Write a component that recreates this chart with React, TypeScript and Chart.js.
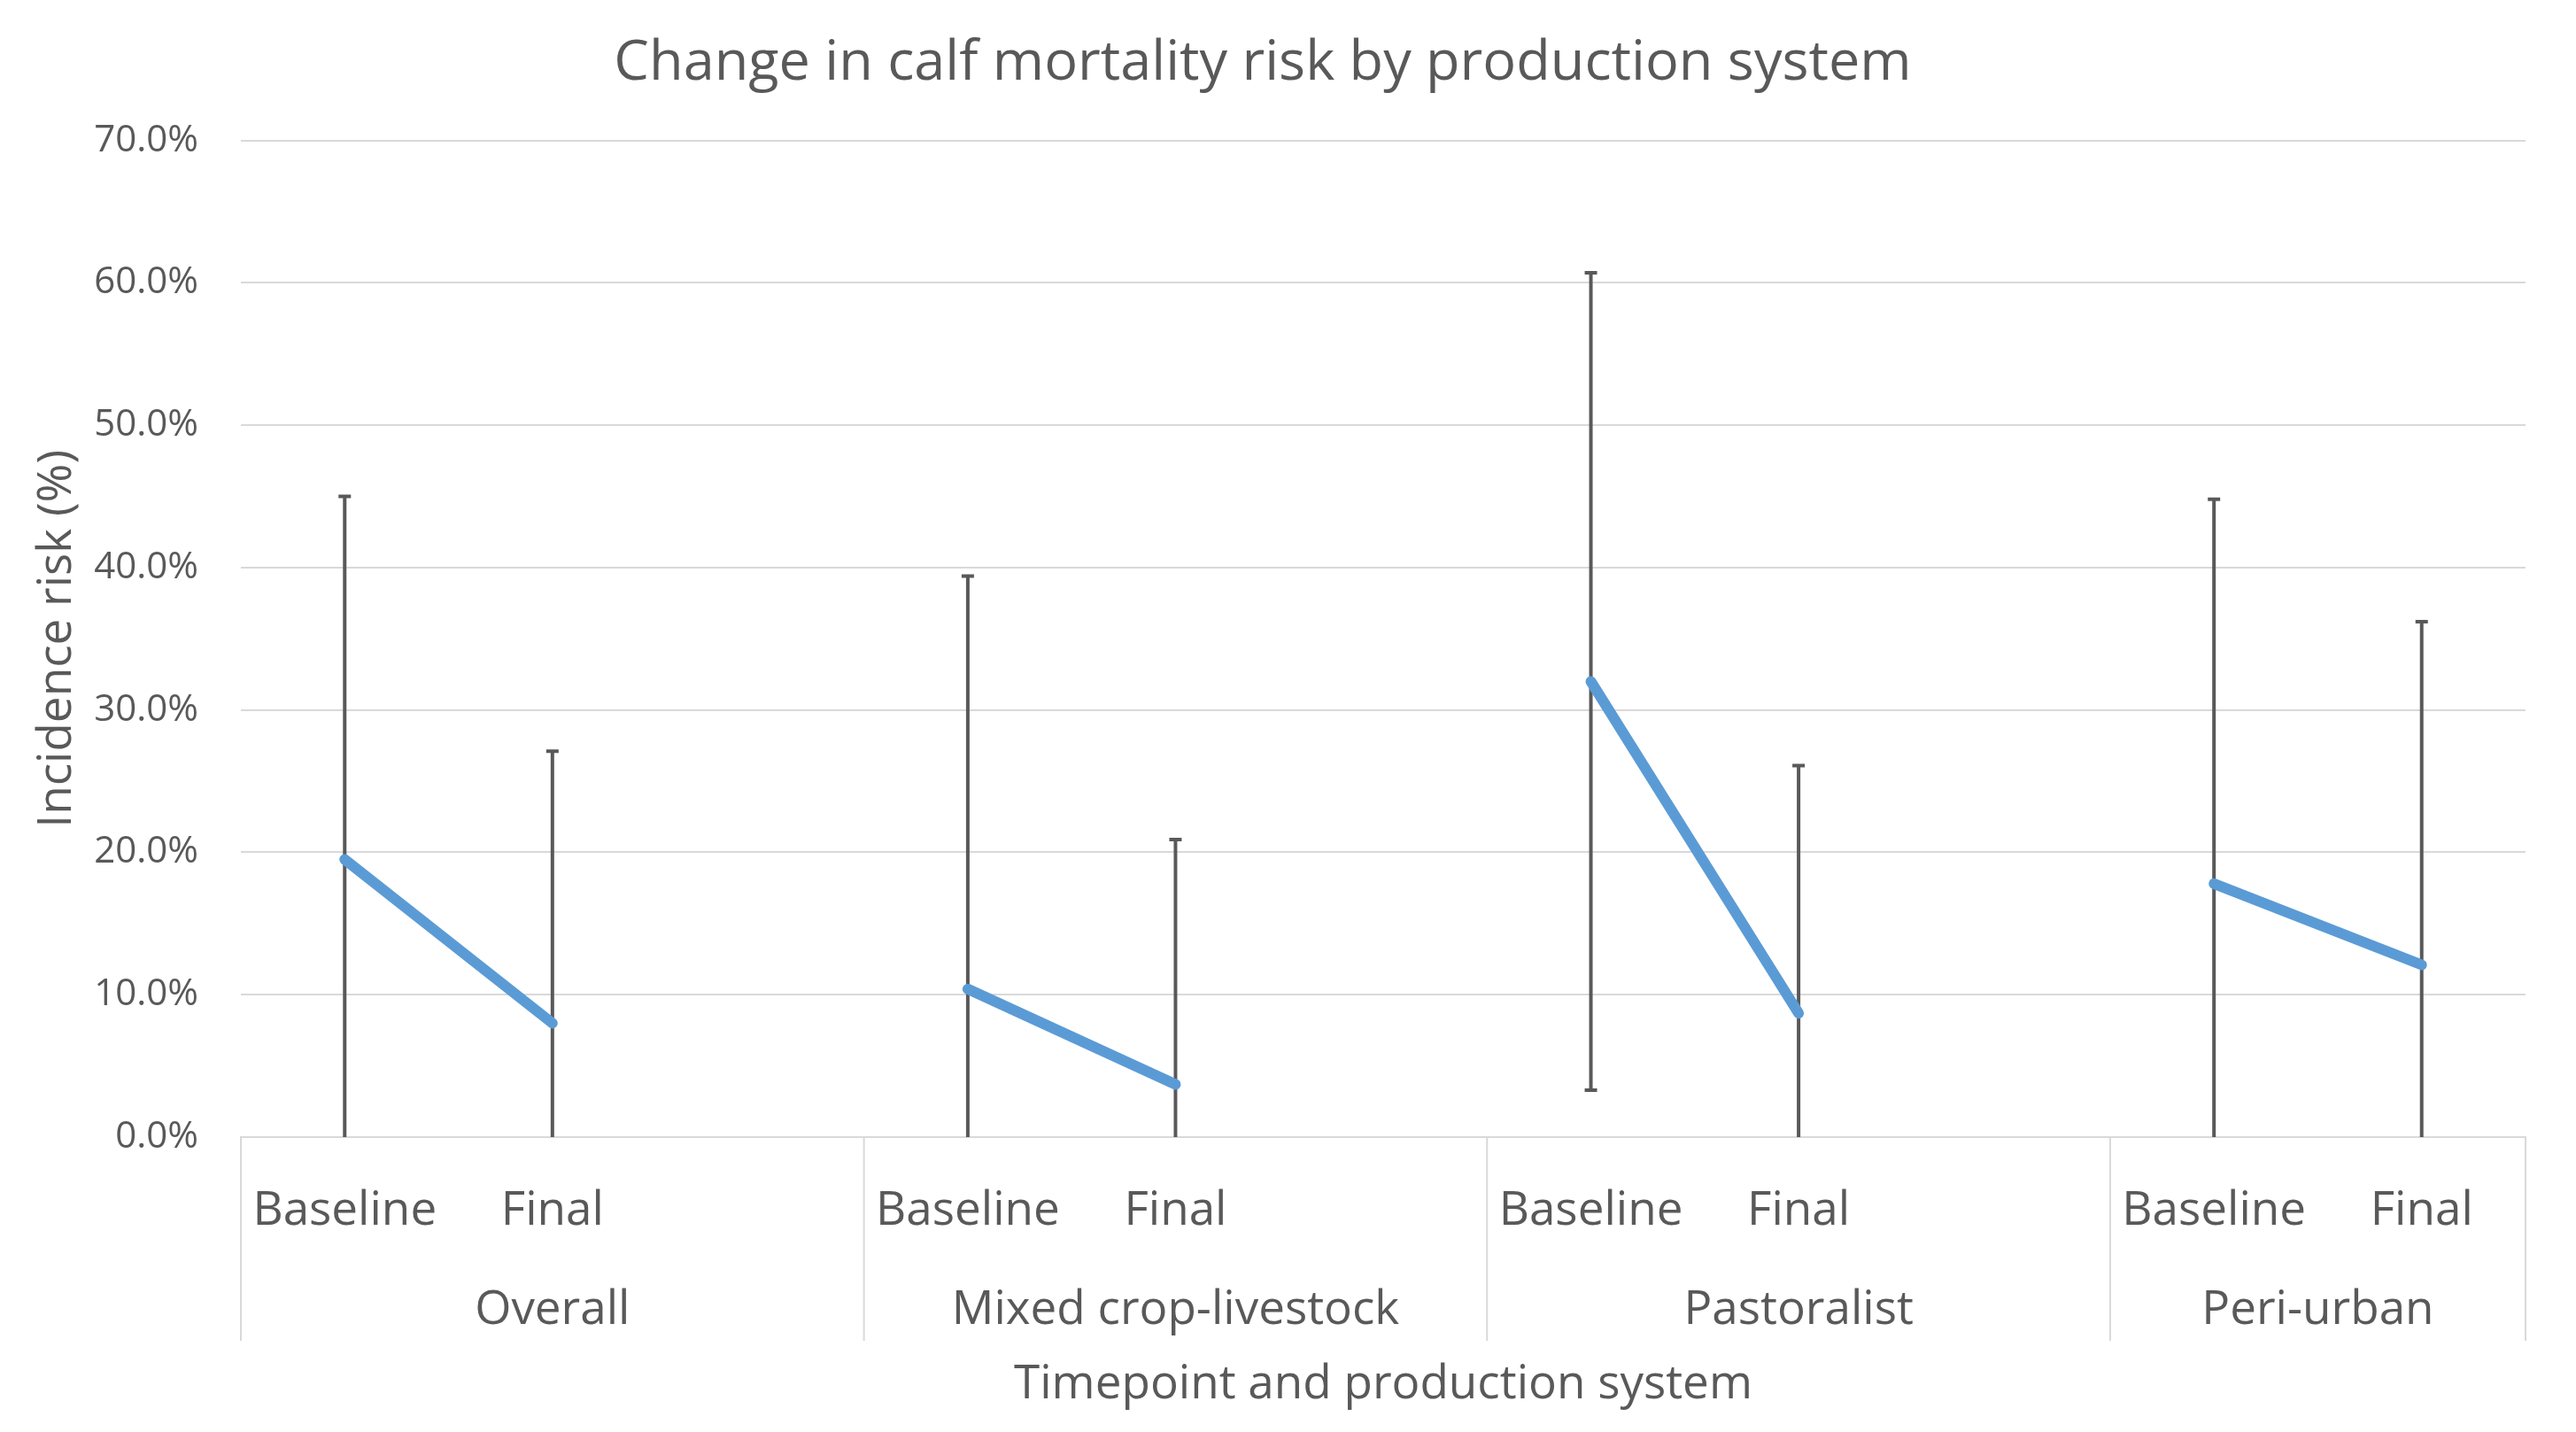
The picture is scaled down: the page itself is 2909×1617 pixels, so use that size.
import React, { useEffect, useRef } from 'react';
import { Chart, registerables } from 'chart.js';

Chart.register(...registerables);

// ---- Data ----
const categories = ['Baseline', 'Final', '', 'Baseline', 'Final', '', 'Baseline', 'Final', '', 'Baseline', 'Final'];
const groupNames = ['Overall', 'Mixed crop-livestock', 'Pastoralist', 'Peri-urban'];
const groupOfCategory = [0, 0, 0, 1, 1, 1, 2, 2, 2, 3, 3];
const riskValues = [19.5, 8.0, null, 10.4, 3.7, null, 32.0, 8.7, null, 17.8, 12.1];
const ciUpper = [45.0, 27.1, null, 39.4, 20.9, null, 60.7, 26.1, null, 44.8, 36.2];
const ciLower = [-6.0, -11.1, null, -18.6, -13.5, null, 3.3, -8.7, null, -9.2, -12.0];
const yMin = 0;
const yMax = 70;
const yStep = 10;

const chartTitle = 'Change in calf mortality risk by production system';
const xTitle = 'Timepoint and production system';
const yTitle = 'Incidence risk (%)';

const FONT = "'Open Sans', sans-serif";
const TEXT = '#595959';
const GRID = '#D9D9D9';

const errorBarPlugin = {
  id: 'errorBars',
  beforeDatasetsDraw(chart: any) {
    const { ctx, chartArea, scales } = chart;
    const x = scales.x;
    const y = scales.y;
    ctx.save();
    ctx.beginPath();
    ctx.rect(chartArea.left, chartArea.top - 10, chartArea.right - chartArea.left, chartArea.bottom - chartArea.top + 10);
    ctx.clip();
    ctx.strokeStyle = '#595959';
    ctx.lineWidth = 4;
    riskValues.forEach((v, i) => {
      if (v == null) return;
      const up = ciUpper[i] as number;
      const lo = ciLower[i] as number;
      const px = x.getPixelForValue(i);
      const yU = y.getPixelForValue(up);
      const yL = y.getPixelForValue(lo);
      ctx.beginPath();
      ctx.moveTo(px, yU);
      ctx.lineTo(px, yL);
      ctx.moveTo(px - 7, yU);
      ctx.lineTo(px + 7, yU);
      ctx.moveTo(px - 7, yL);
      ctx.lineTo(px + 7, yL);
      ctx.stroke();
    });
    ctx.restore();
  },
};

const groupAxisPlugin = {
  id: 'groupAxis',
  afterDraw(chart: any) {
    const { ctx, chartArea, scales } = chart;
    const x = scales.x;
    const bottom = chartArea.bottom;
    ctx.save();
    // separators
    const bounds: number[] = [chartArea.left];
    for (let i = 0; i < groupOfCategory.length - 1; i++) {
      if (groupOfCategory[i] !== groupOfCategory[i + 1]) {
        bounds.push((x.getPixelForValue(i) + x.getPixelForValue(i + 1)) / 2);
      }
    }
    bounds.push(chartArea.right);
    ctx.strokeStyle = GRID;
    ctx.lineWidth = 2;
    bounds.forEach((bx) => {
      ctx.beginPath();
      ctx.moveTo(bx, bottom);
      ctx.lineTo(bx, bottom + 230);
      ctx.stroke();
    });
    // group labels
    ctx.fillStyle = TEXT;
    ctx.font = `53px ${FONT}`;
    ctx.textAlign = 'center';
    ctx.textBaseline = 'middle';
    groupNames.forEach((name, g) => {
      const idx = groupOfCategory.map((gg, i) => (gg === g ? i : -1)).filter((i) => i >= 0);
      const first = idx[0];
      const last = idx[idx.length - 1];
      const cx = (x.getPixelForValue(first) + x.getPixelForValue(last)) / 2;
      ctx.fillText(name, cx, bottom + 196);
    });
    ctx.restore();
  },
};

export default function App() {
  const canvasRef = useRef<HTMLCanvasElement | null>(null);

  useEffect(() => {
    const canvas = canvasRef.current;
    if (!canvas) return;
    const chart = new Chart(canvas, {
      type: 'line',
      data: {
        labels: categories,
        datasets: [
          {
            label: 'Incidence risk',
            data: riskValues as any,
            borderColor: '#5B9BD5',
            backgroundColor: '#5B9BD5',
            borderWidth: 12,
            borderCapStyle: 'round',
            borderJoinStyle: 'round',
            pointRadius: 0,
            pointHoverRadius: 0,
            spanGaps: false,
            tension: 0,
            fill: false,
          },
        ],
      },
      options: {
        animation: false,
        responsive: false,
        devicePixelRatio: 1,
        layout: { padding: { left: 0, right: 57, top: 0, bottom: 0 } },
        plugins: {
          legend: { display: false },
          tooltip: { enabled: false },
          title: {
            display: true,
            text: chartTitle,
            color: TEXT,
            font: { family: FONT, size: 63, weight: 'normal' },
            padding: { top: 34, bottom: 49 },
          },
        },
        scales: {
          x: {
            type: 'category',
            offset: true,
            grid: { display: false, drawTicks: false },
            border: { display: true, color: GRID, width: 2 },
            ticks: {
              color: TEXT,
              font: { family: FONT, size: 53 },
              padding: 52,
              autoSkip: false,
              maxRotation: 0,
              minRotation: 0,
            },
            title: {
              display: true,
              text: xTitle,
              color: TEXT,
              font: { family: FONT, size: 53 },
              padding: { top: 0, bottom: 21 },
            },
            afterFit: (s: any) => {
              s.height = 333;
            },
          },
          y: {
            min: yMin,
            max: yMax,
            ticks: {
              stepSize: yStep,
              color: TEXT,
              font: { family: FONT, size: 42 },
              padding: 48,
              callback: (v: any) => Number(v).toFixed(1) + '%',
            },
            grid: { color: GRID, lineWidth: 2, drawTicks: false },
            border: { display: false },
            title: {
              display: true,
              text: yTitle,
              color: TEXT,
              font: { family: FONT, size: 53 },
              padding: { top: 33, bottom: 0 },
            },
            afterFit: (s: any) => {
              s.width = 272;
            },
          },
        },
      },
      plugins: [errorBarPlugin, groupAxisPlugin],
    } as any);
    return () => chart.destroy();
  }, []);

  return (
    <div style={{ position: 'absolute', left: 0, top: 0, width: 2909, height: 1617, background: '#fff' }}>
      <canvas ref={canvasRef} width={2909} height={1617} style={{ display: 'block' }} />
    </div>
  );
}
